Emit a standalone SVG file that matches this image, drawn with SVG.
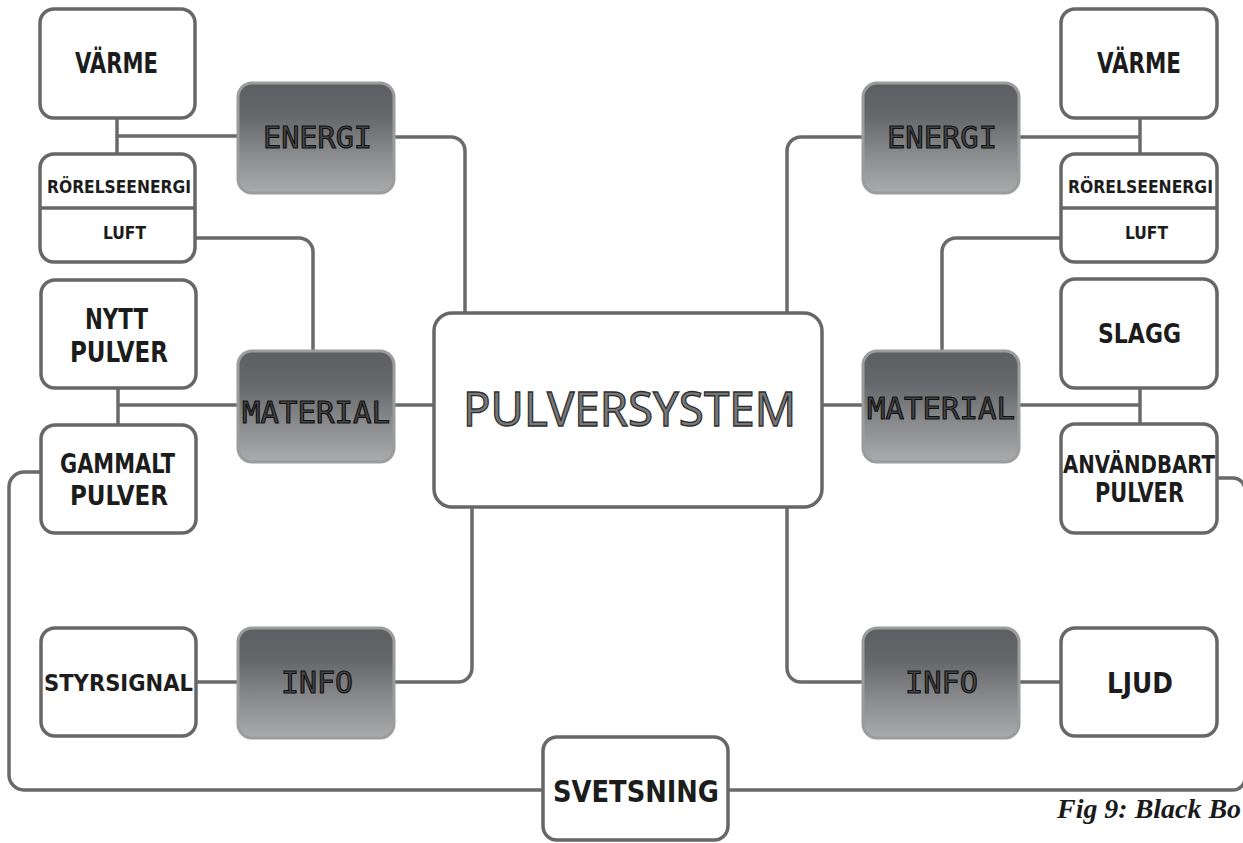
<svg xmlns="http://www.w3.org/2000/svg" width="1243" height="843" viewBox="0 0 1243 843">
  <defs>
    <linearGradient id="darkFill" x1="0" y1="0" x2="0" y2="1">
      <stop offset="0" stop-color="#5c5e61"/>
      <stop offset="0.3" stop-color="#65676a"/>
      <stop offset="0.65" stop-color="#8a8b8d"/>
      <stop offset="1" stop-color="#aaabad"/>
    </linearGradient>
    <style>
      .box { fill: #ffffff; stroke: #676767; stroke-width: 3.5; }
      .dark { fill: url(#darkFill); stroke: #9c9c9c; stroke-width: 3; }
      .link { fill: none; stroke: #6a6a6a; stroke-width: 3.5; stroke-linecap: butt; }
      .lbl { font-family: "DejaVu Sans Condensed", "DejaVu Sans", sans-serif; font-weight: bold; fill: #1c1c1c; text-anchor: middle; }
      .cat { font-family: "DejaVu Sans Mono", "Liberation Mono", monospace; font-size: 30px; fill: #454545; stroke: #111111; stroke-width: 1.1; text-anchor: middle; }
      .core { font-family: "Noto Sans", "Open Sans", sans-serif; font-size: 48px; fill: #777777; stroke: #2e2e2e; stroke-width: 1.3; text-anchor: middle; }
      .caption { font-family: "Liberation Serif", serif; font-style: italic; font-weight: bold; font-size: 28px; fill: #1a1a1a; }
    </style>
  </defs>

  <rect width="1243" height="843" fill="#ffffff"/>

  <!-- connectors -->
  <g id="connectors">
    <!-- left side -->
    <path class="link" d="M117 118 V154"/>
    <path class="link" d="M117 136 H238"/>
    <path class="link" d="M394 137 H451 A14 14 0 0 1 465 151 V313"/>
    <path class="link" d="M195 238 H299 A14 14 0 0 1 313 252 V351"/>
    <path class="link" d="M118 388 V425"/>
    <path class="link" d="M118 405 H238"/>
    <path class="link" d="M394 405 H434"/>
    <path class="link" d="M41 472 H24 A15 15 0 0 0 9 487 V775 A15 15 0 0 0 24 790 H543"/>
    <path class="link" d="M472 507 V668 A14 14 0 0 1 458 682 H394"/>
    <path class="link" d="M196 682 H238"/>
    <!-- right side -->
    <path class="link" d="M1140 118 V154"/>
    <path class="link" d="M1019 137 H1140"/>
    <path class="link" d="M863 137 H801 A14 14 0 0 0 787 151 V313"/>
    <path class="link" d="M1061 238 H956 A14 14 0 0 0 942 252 V351"/>
    <path class="link" d="M822 405 H863"/>
    <path class="link" d="M1019 405 H1140"/>
    <path class="link" d="M1140 388 V424"/>
    <path class="link" d="M1217 478 H1233 A12 12 0 0 1 1245 490 V778 A12 12 0 0 1 1233 790 H728"/>
    <path class="link" d="M787 507 V668 A14 14 0 0 0 801 682 H863"/>
    <path class="link" d="M1019 682 H1061"/>
  </g>

  <!-- centre -->
  <g id="pulversystem">
    <rect class="box" x="434" y="313" width="388" height="194" rx="18"/>
    <text class="core" x="629.5" y="426" textLength="333" lengthAdjust="spacingAndGlyphs">PULVERSYSTEM</text>
  </g>

  <!-- left column -->
  <g id="varme-left">
    <rect class="box" x="40" y="9" width="155" height="109" rx="14"/>
    <text class="lbl" x="116.5" y="73" font-size="28" textLength="83" lengthAdjust="spacingAndGlyphs">VÄRME</text>
  </g>
  <g id="energi-left">
    <rect class="dark" x="238" y="83" width="156" height="110" rx="14"/>
    <text class="cat" x="317.5" y="148" textLength="109" lengthAdjust="spacingAndGlyphs">ENERGI</text>
  </g>
  <g id="rorelse-luft-left">
    <rect class="box" x="40" y="154" width="155" height="108" rx="14"/>
    <line x1="40" y1="208" x2="195" y2="208" stroke="#676767" stroke-width="3.5"/>
    <text class="lbl" x="119" y="193" font-size="18" textLength="144" lengthAdjust="spacingAndGlyphs">RÖRELSEENERGI</text>
    <text class="lbl" x="124.5" y="239" font-size="18" textLength="43" lengthAdjust="spacingAndGlyphs">LUFT</text>
  </g>
  <g id="nytt-pulver">
    <rect class="box" x="41" y="280" width="155" height="108" rx="14"/>
    <text class="lbl" x="116.5" y="329" font-size="28" textLength="63" lengthAdjust="spacingAndGlyphs">NYTT</text>
    <text class="lbl" x="119" y="362" font-size="28" textLength="98" lengthAdjust="spacingAndGlyphs">PULVER</text>
  </g>
  <g id="material-left">
    <rect class="dark" x="238" y="351" width="156" height="111" rx="14"/>
    <text class="cat" x="316" y="423" textLength="148" lengthAdjust="spacingAndGlyphs">MATERIAL</text>
  </g>
  <g id="gammalt-pulver">
    <rect class="box" x="41" y="425" width="155" height="108" rx="14"/>
    <text class="lbl" x="117.5" y="473" font-size="27" textLength="115" lengthAdjust="spacingAndGlyphs">GAMMALT</text>
    <text class="lbl" x="119" y="505" font-size="27" textLength="98" lengthAdjust="spacingAndGlyphs">PULVER</text>
  </g>
  <g id="styrsignal">
    <rect class="box" x="41" y="628" width="155" height="108" rx="14"/>
    <text class="lbl" x="118.5" y="691" font-size="23" textLength="149" lengthAdjust="spacingAndGlyphs">STYRSIGNAL</text>
  </g>
  <g id="info-left">
    <rect class="dark" x="238" y="628" width="156" height="110" rx="14"/>
    <text class="cat" x="317" y="693" textLength="72" lengthAdjust="spacingAndGlyphs">INFO</text>
  </g>

  <!-- right column -->
  <g id="varme-right">
    <rect class="box" x="1061" y="9" width="156" height="109" rx="14"/>
    <text class="lbl" x="1139" y="73" font-size="28" textLength="84" lengthAdjust="spacingAndGlyphs">VÄRME</text>
  </g>
  <g id="energi-right">
    <rect class="dark" x="863" y="83" width="156" height="110" rx="14"/>
    <text class="cat" x="942" y="148" textLength="110" lengthAdjust="spacingAndGlyphs">ENERGI</text>
  </g>
  <g id="rorelse-luft-right">
    <rect class="box" x="1061" y="154" width="156" height="108" rx="14"/>
    <line x1="1061" y1="208" x2="1217" y2="208" stroke="#676767" stroke-width="3.5"/>
    <text class="lbl" x="1140.5" y="193" font-size="18" textLength="145" lengthAdjust="spacingAndGlyphs">RÖRELSEENERGI</text>
    <text class="lbl" x="1146.5" y="239" font-size="18" textLength="43" lengthAdjust="spacingAndGlyphs">LUFT</text>
  </g>
  <g id="slagg">
    <rect class="box" x="1061" y="279" width="156" height="109" rx="14"/>
    <text class="lbl" x="1139.5" y="343" font-size="27" textLength="83" lengthAdjust="spacingAndGlyphs">SLAGG</text>
  </g>
  <g id="material-right">
    <rect class="dark" x="863" y="351" width="156" height="111" rx="14"/>
    <text class="cat" x="941" y="419" textLength="148" lengthAdjust="spacingAndGlyphs">MATERIAL</text>
  </g>
  <g id="anvandbart-pulver">
    <rect class="box" x="1061" y="424" width="156" height="109" rx="14"/>
    <text class="lbl" x="1139" y="473" font-size="24" textLength="152" lengthAdjust="spacingAndGlyphs">ANVÄNDBART</text>
    <text class="lbl" x="1139.5" y="502" font-size="26" textLength="89" lengthAdjust="spacingAndGlyphs">PULVER</text>
  </g>
  <g id="info-right">
    <rect class="dark" x="863" y="628" width="156" height="110" rx="14"/>
    <text class="cat" x="941.5" y="693" textLength="73" lengthAdjust="spacingAndGlyphs">INFO</text>
  </g>
  <g id="ljud">
    <rect class="box" x="1061" y="628" width="156" height="108" rx="14"/>
    <text class="lbl" x="1140" y="693" font-size="28" textLength="66" lengthAdjust="spacingAndGlyphs">LJUD</text>
  </g>

  <!-- bottom -->
  <g id="svetsning">
    <rect class="box" x="543" y="737" width="185" height="103" rx="14"/>
    <text class="lbl" x="636" y="802" font-size="30" textLength="166" lengthAdjust="spacingAndGlyphs">SVETSNING</text>
  </g>

  <text class="caption" x="1057" y="818" textLength="184" lengthAdjust="spacingAndGlyphs">Fig 9: Black Bo</text>
</svg>
